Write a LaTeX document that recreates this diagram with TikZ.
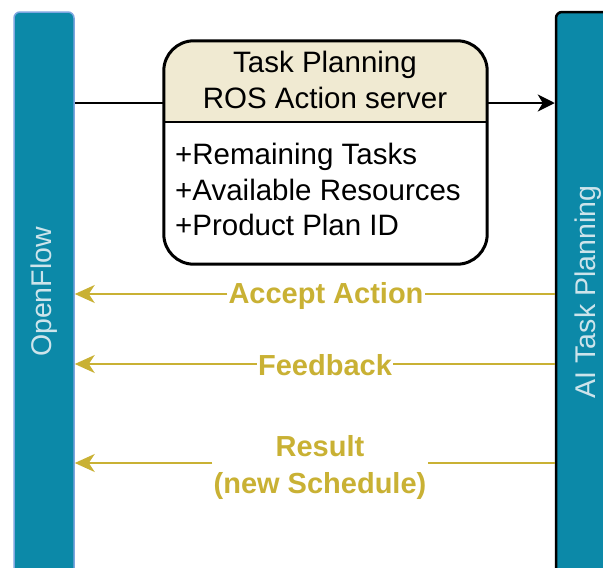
\documentclass[tikz,border=0pt]{standalone}
\usepackage{fontspec}
\setmainfont{Liberation Sans}
\usetikzlibrary{arrows.meta}

\definecolor{laneblue}{RGB}{12,137,168}
\definecolor{laneedge}{RGB}{126,166,224}
\definecolor{lanetext}{RGB}{205,228,235}
\definecolor{hdrbeige}{RGB}{240,234,210}
\definecolor{respgold}{RGB}{201,177,52}

\begin{document}
\begin{tikzpicture}[x=1pt,y=1pt,yscale=-1,
  lane/.style={fill=laneblue, minimum width=60pt, minimum height=576pt, inner sep=0pt, rounded corners=6pt},
  lanelbl/.style={text=lanetext, rotate=90, inner sep=0pt, font=\fontsize{28.5}{34}\selectfont},
  srvbox/.style={fill=white, minimum width=323pt, minimum height=223pt, inner sep=0pt},
  srvtxt/.style={inner sep=0pt, font=\fontsize{29.5}{35.5}\selectfont},
  reqline/.style={line width=2pt, -{Stealth[length=17pt,width=17pt,inset=5pt]}},
  resp/.style={draw=respgold, line width=2pt},
  resptip/.style={-{Stealth[length=20pt,width=18pt,inset=6pt]}},
  resplbl/.style={text=respgold, fill=white, inner sep=1pt, align=center, font=\bfseries\fontsize{29}{37}\selectfont}]
\useasboundingbox (0,0) rectangle (603,568);
\clip (0,0) rectangle (603,568);

%Shape: lanes
\node[lane, draw=laneedge, line width=1.5pt] (openflow) at (44,300) {};
\node[lane, draw=black, line width=2.5pt] (aitp) at (586,300) {};
% Text Node
\node[lanelbl] (openflowlbl) at (44,292) {OpenFlow};
% Text Node
\node[lanelbl] (aitplbl) at (588,292) {AI Task Planning};

%Straight Lines: request
\draw[reqline] (openflow.east |- 0,103) -- (aitp.west |- 0,103);

%Shape: action server
\node[srvbox] (srv) at (325.5,152.5) {};
\begin{scope}
  \clip (srv.north west) rectangle (srv.east |- 0,122);
  \fill[hdrbeige, rounded corners=30pt] (srv.north west) rectangle (srv.south east);
\end{scope}
\draw[line width=2.5pt] (srv.west |- 0,122) -- (srv.east |- 0,122);
\draw[line width=3pt, rounded corners=30pt] (srv.north west) rectangle (srv.south east);
% Text Node
\node[srvtxt, align=center] (srvhdr) at (325,80) {Task Planning\\ROS Action server};
% Text Node
\node[srvtxt, align=left, anchor=north west] (srvattr) at (175,143) {+Remaining Tasks\\+Available Resources\\+Product Plan ID};

%Straight Lines: responses
\node[resplbl] (acc) at (326,296) {Accept Action};
\draw[resp] (aitp.west |- 0,294) -- (acc.east |- 0,294);
\draw[resp, resptip] (acc.west |- 0,294) -- (openflow.east |- 0,294);

\node[resplbl] (fb) at (325,365) {Feedback};
\draw[resp] (aitp.west |- 0,364) -- (fb.east |- 0,364);
\draw[resp, resptip] (fb.west |- 0,364) -- (openflow.east |- 0,364);

\node[resplbl] (res) at (320,467) {Result\\(new Schedule)};
\draw[resp] (aitp.west |- 0,463) -- (res.east |- 0,463);
\draw[resp, resptip] (res.west |- 0,463) -- (openflow.east |- 0,463);

\end{tikzpicture}
\end{document}
